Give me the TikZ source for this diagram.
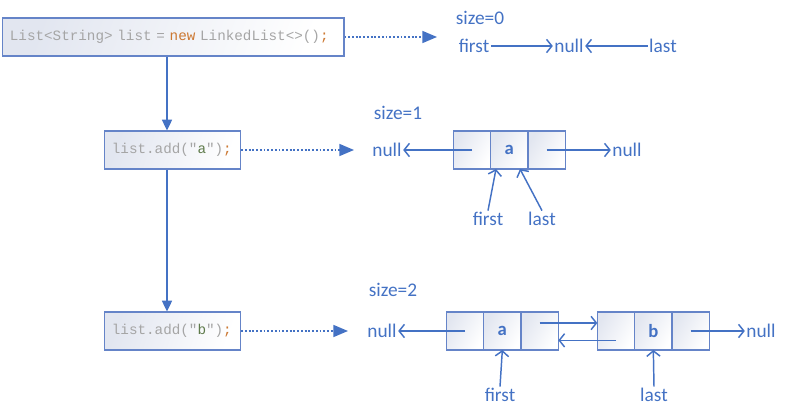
\documentclass[tikz,border=0pt]{standalone}
\usepackage{fontspec}
\setmainfont{Carlito}
\newfontfamily\codefont{Liberation Mono}
\usepackage{tikz}
\usetikzlibrary{arrows.meta,positioning}
\definecolor{accent}{HTML}{4472C4}
\definecolor{frame}{HTML}{6584C8}
\definecolor{mist}{HTML}{E2E6F0}
\definecolor{codegray}{HTML}{A5A5A5}
\definecolor{kw}{HTML}{CC7832}
\definecolor{str}{HTML}{5E7A4A}
\tikzset{
  codebox/.style={rectangle, draw=frame, line width=0.9pt, left color=mist, right color=white,
                  shading angle=70, anchor=west, align=left, inner xsep=5.5pt,
                  minimum height=28.5pt, font=\codefont\fontsize{10.7}{12}\selectfont, text=codegray},
  cell/.style={rectangle, draw=frame, line width=0.9pt, left color=mist, right color=white,
               shading angle=60, outer sep=0pt, minimum width=28pt, minimum height=28.5pt,
               font=\fontsize{14}{16}\selectfont\bfseries, text=accent},
  lbl/.style={font=\fontsize{14.5}{17}\selectfont, text=accent, inner sep=1pt},
  flow/.style={-{Triangle[length=8pt,width=7.5pt]}, draw=accent, line width=1.3pt},
  trace/.style={-{Triangle[length=11pt,width=9pt]}, draw=accent, line width=1.2pt,
                dash pattern=on 1.4pt off 1.4pt},
  ptr/.style={-{Straight Barb[length=4pt,width=10pt]}, draw=accent, line width=1.1pt}
}
\begin{document}
\begin{tikzpicture}[x=0.75pt,y=-0.75pt]
 \useasboundingbox (0,0) rectangle (790,417);
 % statements
 \node[codebox, text width=245pt] (code1) at (2,37)
   {List<String> list = {\color{kw}new} LinkedList<>(){\color{kw};}};
 \node[codebox, text width=91pt] (code2) at (104,150)
   {list.add("{\color{str}a}"){\color{kw};}};
 \node[codebox, text width=91pt] (code3) at (104,331)
   {list.add("{\color{str}b}"){\color{kw};}};
 \coordinate (spine) at (167,0);
 \draw[flow] (code1.south -| spine) -- (code2.north -| spine);
 \draw[flow] (code2.south -| spine) -- (code3.north -| spine);
 \coordinate (tip0) at (437,37);
 \coordinate (tip1) at (354,150);
 \coordinate (tip2) at (348,331);
 \draw[trace] (code1.east) -- (tip0);
 \draw[trace] (code2.east) -- (tip1);
 \draw[trace] (code3.east) -- (tip2);

 % empty list
 \node[lbl] (size0) at (480,18) {size=0};
 \node[lbl] (first0) at (474,46) {first};
 \node[lbl] (null0) at (569,46) {null};
 \node[lbl] (last0) at (663,46) {last};
 \draw[ptr] (first0.east) -- (null0.west);
 \draw[ptr] (last0.west) -- (null0.east);

 % one element
 \node[lbl] (size1) at (398,113) {size=1};
 \node[lbl] (null1l) at (387,150) {null};
 \node[cell] (a1p) at (472,150) {};
 \node[cell, right=0pt of a1p] (a1v) {a};
 \node[cell, right=0pt of a1v] (a1n) {};
 \node[lbl] (null1r) at (627,150) {null};
 \draw[ptr] (a1p.center) -- (null1l.east);
 \draw[ptr] (a1n.center) -- (null1r.west);
 \node[lbl] (first1) at (488,219) {first};
 \node[lbl] (last1) at (542,219) {last};
 \draw[ptr] (first1.north) -- ([xshift=4pt]a1v.south west);
 \draw[ptr] (last1.north) -- ([xshift=-6pt]a1v.south east);

 % two elements
 \node[lbl] (size2) at (393,290) {size=2};
 \node[lbl] (null2l) at (382,331) {null};
 \node[cell] (a2p) at (465,331) {};
 \node[cell, right=0pt of a2p] (a2v) {a};
 \node[cell, right=0pt of a2v] (a2n) {};
 \node[cell] (b2p) at (616,331) {};
 \node[cell, right=0pt of b2p] (b2v) {b};
 \node[cell, right=0pt of b2v] (b2n) {};
 \node[lbl] (null2r) at (761,331) {null};
 \draw[ptr] (a2p.center) -- (null2l.east);
 \draw[ptr] ([yshift=6pt]a2n.center) -- ([yshift=6pt]b2p.west);
 \draw[ptr] ([yshift=-7pt]b2p.center) -- ([yshift=-7pt]a2n.east);
 \draw[ptr] (b2n.center) -- (null2r.west);
 \node[lbl] (first2) at (500,395) {first};
 \node[lbl] (last2) at (654,395) {last};
 \draw[ptr] (first2.north) -- (a2v.south);
 \draw[ptr] (last2.north) -- (b2v.south);
\end{tikzpicture}
\end{document}
